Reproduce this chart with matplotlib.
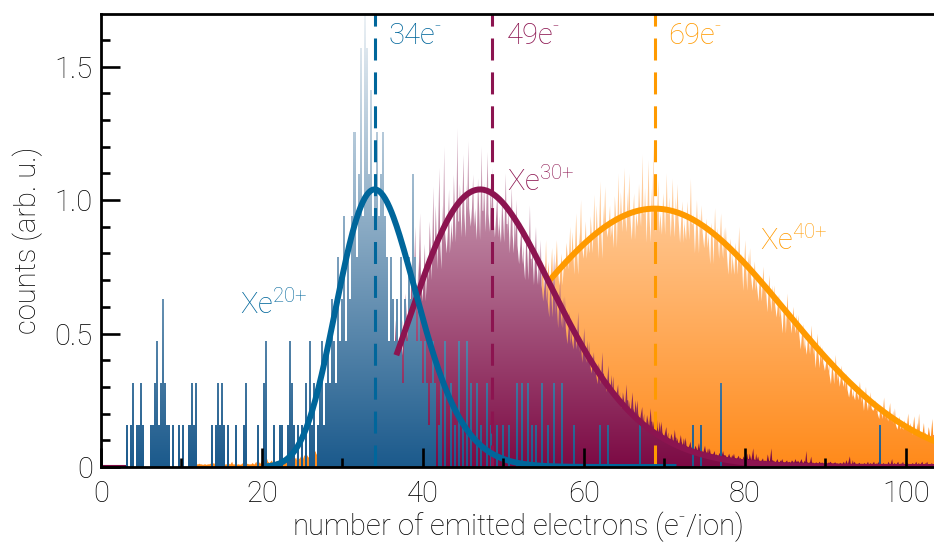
import numpy as np
import matplotlib
matplotlib.use("Agg")
import matplotlib.pyplot as plt
from matplotlib.path import Path
from matplotlib.patches import PathPatch
from matplotlib.colors import to_rgb
from matplotlib.ticker import MultipleLocator

plt.rcParams["font.family"] = ["Roboto", "DejaVu Sans"]
plt.rcParams["font.weight"] = "light"
plt.rcParams["axes.labelweight"] = "light"
plt.rcParams["mathtext.fontset"] = "custom"
plt.rcParams["mathtext.rm"] = "Roboto:light"
plt.rcParams["mathtext.it"] = "Roboto:italic:light"
plt.rcParams["mathtext.bf"] = "Roboto:bold"

## === Data === ##

# Xe20+ : low statistics, heights are integer counts, 1 count = 0.157 arb. u.
count_unit = 0.157
blue_bin = 0.25
blue_x = [3.25, 3.75, 4.0, 4.5, 4.75, 5.0, 5.25, 6.25, 6.5, 6.75, 7.0, 7.25, 7.5, 7.75, 8.0,
          8.25, 8.5, 9.0, 9.75, 10.25, 11.0, 11.25, 11.5, 11.75, 13.75, 14.25, 14.5, 14.75,
          15.0, 15.25, 15.75, 16.75, 17.75, 18.0, 19.5, 20.25, 20.5, 21.5, 22.25, 22.5, 23.25,
          23.5, 23.75, 24.0, 24.5, 25.0, 25.5, 26.0, 26.25, 26.5, 27.0, 27.25, 27.5, 27.75,
          28.0, 28.25, 28.5, 28.75, 29.0, 29.25, 29.5, 29.75, 30.0, 30.25, 30.5, 30.75, 31.0,
          31.25, 31.5, 31.75, 32.0, 32.25, 32.5, 32.75, 33.0, 33.25, 33.5, 33.75, 34.0, 34.25,
          34.5, 34.75, 35.0, 35.25, 35.5, 35.75, 36.0, 36.25, 36.5, 36.75, 37.0, 37.25, 37.5,
          37.75, 38.0, 38.25, 38.5, 38.75, 39.0, 39.25, 39.5, 39.75, 40.0, 40.25, 40.5, 40.75,
          41.0, 41.25, 41.5, 42.0, 42.25, 42.75, 43.5, 44.0, 44.5, 45.0, 45.5, 46.0, 46.75,
          47.25, 48.0, 48.5, 49.25, 50.0, 50.75, 51.75, 52.25, 53.0, 53.5, 54.0, 54.75, 55.5,
          56.25, 57.25, 58.75, 62.0, 63.0, 67.0, 73.5, 74.5, 77.0, 96.75]
blue_n = [1, 1, 2, 1, 1, 2, 1, 1, 1, 2, 3, 1, 2, 4, 2,
          1, 1, 1, 1, 1, 1, 2, 1, 2, 1, 1, 2, 1,
          2, 1, 1, 1, 1, 2, 1, 2, 3, 1, 1, 1, 1,
          3, 2, 1, 1, 1, 2, 3, 1, 2, 1, 2, 3, 1,
          2, 3, 2, 4, 3, 2, 5, 3, 4, 6, 3, 5, 4,
          6, 8, 5, 7, 10, 6, 11, 10, 7, 9, 6, 7, 8,
          6, 7, 8, 6, 5, 3, 5, 4, 3, 4, 3, 5, 2,
          4, 3, 5, 4, 7, 5, 3, 4, 3, 2, 3, 2, 1,
          2, 3, 2, 1, 2, 3, 2, 1, 3, 1, 3, 2, 2,
          1, 2, 1, 1, 1, 1, 2, 2, 2, 1, 1, 2, 1,
          2, 2, 1, 1, 1, 1, 1, 1, 2, 1]

# Xe30+ : unit bins, typical level, highest spike and deepest dip in each bin
maroon_bins = np.arange(37, 104)
maroon_level = [0.45, 0.55, 0.64, 0.72, 0.79, 0.84, 0.88, 0.92, 0.95, 0.97, 0.96, 0.95, 0.94,
                0.91, 0.87, 0.83, 0.78, 0.74, 0.68, 0.62, 0.57, 0.52, 0.48, 0.43, 0.39, 0.35,
                0.31, 0.28, 0.25, 0.22, 0.20, 0.17, 0.15, 0.13, 0.11, 0.095, 0.08, 0.07, 0.06,
                0.05, 0.045, 0.04, 0.035, 0.03, 0.03, 0.025, 0.025, 0.02, 0.02, 0.02, 0.018,
                0.018, 0.015, 0.015, 0.015, 0.012, 0.012, 0.012, 0.01, 0.01, 0.01, 0.01, 0.01,
                0.01, 0.01, 0.01, 0.01]
maroon_peak = [0.55, 0.75, 0.90, 0.95, 1.05, 1.12, 1.20, 1.27, 1.17, 1.22, 1.20, 1.18, 1.12,
               1.10, 1.05, 1.00, 0.98, 0.90, 0.85, 0.80, 0.70, 0.64, 0.58, 0.52, 0.47, 0.43,
               0.38, 0.34, 0.31, 0.28, 0.25, 0.22, 0.19, 0.17, 0.14, 0.12, 0.11, 0.09, 0.08,
               0.07, 0.06, 0.05, 0.05, 0.05, 0.07, 0.04, 0.07, 0.03, 0.03, 0.03, 0.03,
               0.06, 0.02, 0.02, 0.02, 0.02, 0.04, 0.02, 0.02, 0.02, 0.02, 0.03, 0.02,
               0.02, 0.02, 0.02, 0.02]
maroon_dip = [0.40, 0.48, 0.58, 0.62, 0.70, 0.74, 0.80, 0.84, 0.86, 0.90, 0.85, 0.88, 0.86,
              0.84, 0.80, 0.76, 0.70, 0.68, 0.62, 0.56, 0.52, 0.46, 0.44, 0.39, 0.35, 0.31,
              0.28, 0.25, 0.22, 0.20, 0.17, 0.15, 0.13, 0.11, 0.09, 0.08, 0.07, 0.06, 0.05,
              0.04, 0.04, 0.03, 0.03, 0.025, 0.025, 0.02, 0.02, 0.015, 0.015, 0.015, 0.015,
              0.015, 0.012, 0.012, 0.012, 0.01, 0.01, 0.01, 0.008, 0.008, 0.008, 0.008, 0.008,
              0.008, 0.008, 0.008, 0.008]

# Xe40+ : unit bins, typical level, highest spike and deepest dip in each bin
orange_bins = np.arange(12, 104)
orange_level = [0.01, 0.01, 0.01, 0.01, 0.01, 0.01, 0.01, 0.01, 0.015, 0.02, 0.02, 0.025,
                0.03, 0.035, 0.04, 0.05, 0.06, 0.07, 0.08, 0.09, 0.10, 0.12, 0.13, 0.15,
                0.17, 0.19, 0.21, 0.24, 0.27, 0.29, 0.32, 0.35, 0.38, 0.41, 0.44, 0.48,
                0.51, 0.54, 0.57, 0.60, 0.63, 0.66, 0.68, 0.70, 0.72, 0.75, 0.78, 0.81,
                0.84, 0.86, 0.89, 0.91, 0.93, 0.94, 0.95, 0.95, 0.94, 0.95, 0.95, 0.94,
                0.93, 0.91, 0.90, 0.88, 0.86, 0.84, 0.81, 0.78, 0.75, 0.72, 0.68, 0.64,
                0.61, 0.57, 0.54, 0.50, 0.46, 0.42, 0.39, 0.35, 0.32, 0.29, 0.27, 0.24,
                0.22, 0.20, 0.18, 0.16, 0.15, 0.14, 0.13, 0.12]
orange_peak = [0.015, 0.01, 0.015, 0.01, 0.02, 0.01, 0.015, 0.02, 0.025, 0.03, 0.025, 0.035,
               0.04, 0.045, 0.05, 0.06, 0.07, 0.08, 0.09, 0.10, 0.11, 0.13, 0.14, 0.16,
               0.18, 0.20, 0.22, 0.25, 0.28, 0.30, 0.33, 0.36, 0.39, 0.42, 0.45, 0.49,
               0.52, 0.55, 0.58, 0.61, 0.64, 0.67, 0.70, 0.85, 0.82, 0.85, 0.90, 0.95,
               1.00, 1.02, 1.07, 1.05, 1.10, 1.12, 1.10, 1.17, 1.15, 1.20, 1.10, 1.08,
               1.06, 1.08, 1.00, 0.98, 0.97, 0.95, 0.90, 0.90, 0.85, 0.82, 0.75, 0.72,
               0.68, 0.65, 0.60, 0.57, 0.53, 0.50, 0.45, 0.42, 0.38, 0.35, 0.32, 0.30,
               0.28, 0.26, 0.24, 0.22, 0.20, 0.19, 0.20, 0.18]
orange_dip = [0.01, 0.008, 0.01, 0.008, 0.01, 0.008, 0.01, 0.01, 0.012, 0.015, 0.015, 0.02,
              0.025, 0.03, 0.035, 0.04, 0.05, 0.06, 0.07, 0.08, 0.09, 0.11, 0.12, 0.14,
              0.16, 0.18, 0.20, 0.23, 0.26, 0.28, 0.31, 0.34, 0.37, 0.40, 0.43, 0.47,
              0.50, 0.53, 0.56, 0.59, 0.62, 0.65, 0.67, 0.62, 0.66, 0.68, 0.74, 0.72,
              0.78, 0.80, 0.78, 0.86, 0.82, 0.88, 0.85, 0.90, 0.84, 0.88, 0.87, 0.86,
              0.84, 0.85, 0.80, 0.82, 0.76, 0.78, 0.72, 0.72, 0.66, 0.66, 0.62, 0.58,
              0.56, 0.50, 0.50, 0.44, 0.42, 0.37, 0.36, 0.31, 0.30, 0.26, 0.25, 0.21,
              0.21, 0.18, 0.17, 0.14, 0.14, 0.12, 0.12, 0.11]

# fitted distributions: amplitude, most probable value, width, drawn range
fit_blue = dict(amp=1.04, mode=34.0, width=0.145, lo=20.5, hi=71.5)      # log-normal
fit_maroon = dict(amp=1.04, mode=47.1, width=0.185, lo=36.7, hi=104.0)   # log-normal
fit_orange = dict(amp=0.968, mode=68.8, width=16.2, lo=55.8, hi=104.0)   # gaussian

mean_pos = [34.0, 48.6, 68.8]
mean_text = ["34", "49", "69"]

colors_fill = ["#1b5a8c", "#7c0a44", "#ff8a1a"]
colors_line = ["#00669b", "#8c1450", "#ff9a00"]

## === Helpers === ##

def step_path(left_edges, width, heights):
    verts = [(left_edges[0], 0.0)]
    for x, h in zip(left_edges, heights):
        verts += [(x, h), (x + width, h)]
    verts += [(left_edges[-1] + width, 0.0), (left_edges[0], 0.0)]
    return Path(verts, closed=True)

def noisy_path(bins, level, peak, dip):
    # each unit bin drawn as a few narrow spikes/dips around its level
    shapes = [[(-0.5, "l"), (-0.35, "p"), (-0.25, "l"), (-0.05, "d"), (0.1, "l"),
               (0.25, "m"), (0.35, "d"), (0.5, "l")],
              [(-0.5, "l"), (-0.3, "d"), (-0.15, "m"), (0.0, "l"), (0.1, "d"),
               (0.3, "p"), (0.4, "l"), (0.5, "l")],
              [(-0.5, "l"), (-0.4, "m"), (-0.2, "d"), (0.05, "p"), (0.15, "l"),
               (0.3, "d"), (0.42, "m"), (0.5, "l")]]
    verts = [(bins[0] - 0.5, 0.0)]
    for i, (c, l, p, d) in enumerate(zip(bins, level, peak, dip)):
        vals = {"l": l, "p": p, "d": d, "m": 0.5 * (l + p)}
        verts += [(c + dx, vals[k]) for dx, k in shapes[i % 3]]
    verts += [(bins[-1] + 0.5, 0.0), (bins[0] - 0.5, 0.0)]
    return Path(verts, closed=True)

def gradient_fill(ax, path, color, z):
    patch = PathPatch(path, facecolor="none", edgecolor="none", transform=ax.transData)
    ax.add_patch(patch)
    t = np.linspace(0, 1, 300)[:, None]
    frac = t * 0.93
    base = np.array(to_rgb(color))
    rgb = base[None, :] * (1 - frac) + frac
    im = ax.imshow(rgb[:, None, :], extent=[0, 104, 0, 1.72], origin="lower",
                   aspect="auto", zorder=z, interpolation="bilinear")
    im.set_clip_path(patch)

def lognormal(x, p):
    return p["amp"] * np.exp(-np.log(x / p["mode"]) ** 2 / (2 * p["width"] ** 2))

def gaussian(x, p):
    return p["amp"] * np.exp(-(x - p["mode"]) ** 2 / (2 * p["width"] ** 2))

## === Figure === ##

fig = plt.figure(figsize=(9.34, 5.44), dpi=100)
ax = fig.add_axes([0.1081, 0.1415, 0.8919, 0.8327])

# histograms, back to front
gradient_fill(ax, noisy_path(orange_bins, orange_level, orange_peak, orange_dip), colors_fill[2], 1.0)
gradient_fill(ax, noisy_path(maroon_bins, maroon_level, maroon_peak, maroon_dip), colors_fill[1], 1.1)

blue_grid = np.arange(0, 104, blue_bin)
blue_h = np.zeros(len(blue_grid))
for x, n in zip(blue_x, blue_n):
    blue_h[int(round(x / blue_bin))] = n * count_unit
gradient_fill(ax, step_path(blue_grid - blue_bin / 2, blue_bin, blue_h), colors_fill[0], 1.2)

# thin baseline of the Xe30+ data at the far left
ax.plot([0, 3], [0.004, 0.004], color=colors_fill[1], lw=1.5, zorder=1.15)

# mean positions
for xm, c in zip(mean_pos, colors_line):
    ax.axvline(xm, color=c, lw=2.2, ls=(0, (7.2, 3.9)), zorder=1.5)

# fits
for p, func, c, z in [(fit_orange, gaussian, colors_line[2], 2.0),
                      (fit_maroon, lognormal, colors_line[1], 2.1),
                      (fit_blue, lognormal, colors_line[0], 2.2)]:
    xf = np.linspace(p["lo"], p["hi"], 400)
    ax.plot(xf, func(xf, p), color=c, lw=4.3, zorder=z, solid_capstyle="butt")

# annotations
fs = 21
for xm, txt, c in zip(mean_pos, mean_text, colors_line):
    ax.text(xm + 1.7, 1.615, r"$\mathregular{" + txt + r"e^{\text{-}}}$", color=c,
            fontsize=fs, ha="left", va="center")
ax.text(17.3, 0.61, r"$\mathregular{Xe^{\text{20+}}}$", color=colors_line[0], fontsize=fs, va="center")
ax.text(50.4, 1.07, r"$\mathregular{Xe^{\text{30+}}}$", color=colors_line[1], fontsize=fs, va="center")
ax.text(81.9, 0.85, r"$\mathregular{Xe^{\text{40+}}}$", color=colors_line[2], fontsize=fs, va="center")

# axes styling
ax.set_xlim(0, 103.5)
ax.set_ylim(0, 1.697)
ax.xaxis.set_major_locator(MultipleLocator(20))
ax.xaxis.set_minor_locator(MultipleLocator(10))
ax.set_yticks([0, 0.5, 1.0, 1.5])
ax.set_yticklabels(["0", "0.5", "1.0", "1.5"])
ax.yaxis.set_minor_locator(MultipleLocator(0.1))
ax.tick_params(which="both", direction="in", width=1.9, top=False, right=False, labelsize=fs)
ax.tick_params(which="major", length=13.5)
ax.tick_params(which="minor", length=6.5)
ax.tick_params(axis="x", pad=9)
ax.tick_params(axis="y", pad=6)
ax.spines["right"].set_visible(False)
for s in ["left", "top", "bottom"]:
    ax.spines[s].set_linewidth(2.0)
ax.set_axisbelow(False)

ax.set_xlabel(r"number of emitted electrons (e$^{\text{-}}$/ion)", fontsize=fs, labelpad=1)
ax.set_ylabel("counts (arb. u.)", fontsize=fs, labelpad=8)

plt.savefig("out.png", dpi=100)
